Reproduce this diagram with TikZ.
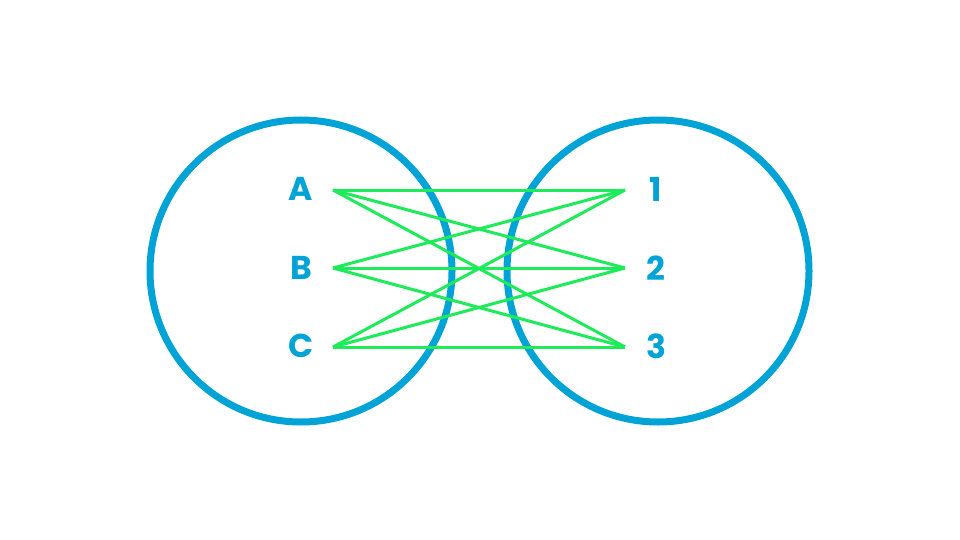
\documentclass[tikz,border=0pt]{standalone}
\usepackage{fontspec}
\setmainfont{Poppins}
\definecolor{cblue}{HTML}{00A3D6}
\definecolor{cgreen}{HTML}{1EEB5A}
\begin{document}
\begin{tikzpicture}[x=1pt,y=-1pt,
  ring/.style={draw=cblue,line width=7pt},
  lab/.style={text=cblue,font=\bfseries\fontsize{33}{33}\selectfont},
  edge/.style={draw=cgreen,line width=3pt}]
\useasboundingbox (0,0) rectangle (960,540);
\draw[ring] (301,271) circle (151);
\draw[ring] (658,271) circle (151);
\node[lab] (A) at (301,189) {A};
\node[lab] (B) at (301,268) {B};
\node[lab] (C) at (301,346) {C};
\node[lab] (n1) at (656,189) {1};
\node[lab] (n2) at (656,268) {2};
\node[lab] (n3) at (656,346) {3};
\coordinate (a) at (333,190);
\coordinate (b) at (333,268);
\coordinate (c) at (333,347);
\coordinate (p) at (625,190);
\coordinate (q) at (625,268);
\coordinate (r) at (625,347);
\foreach \s in {a,b,c}{\foreach \t in {p,q,r}{\draw[edge] (\s) -- (\t);}}
\end{tikzpicture}
\end{document}
